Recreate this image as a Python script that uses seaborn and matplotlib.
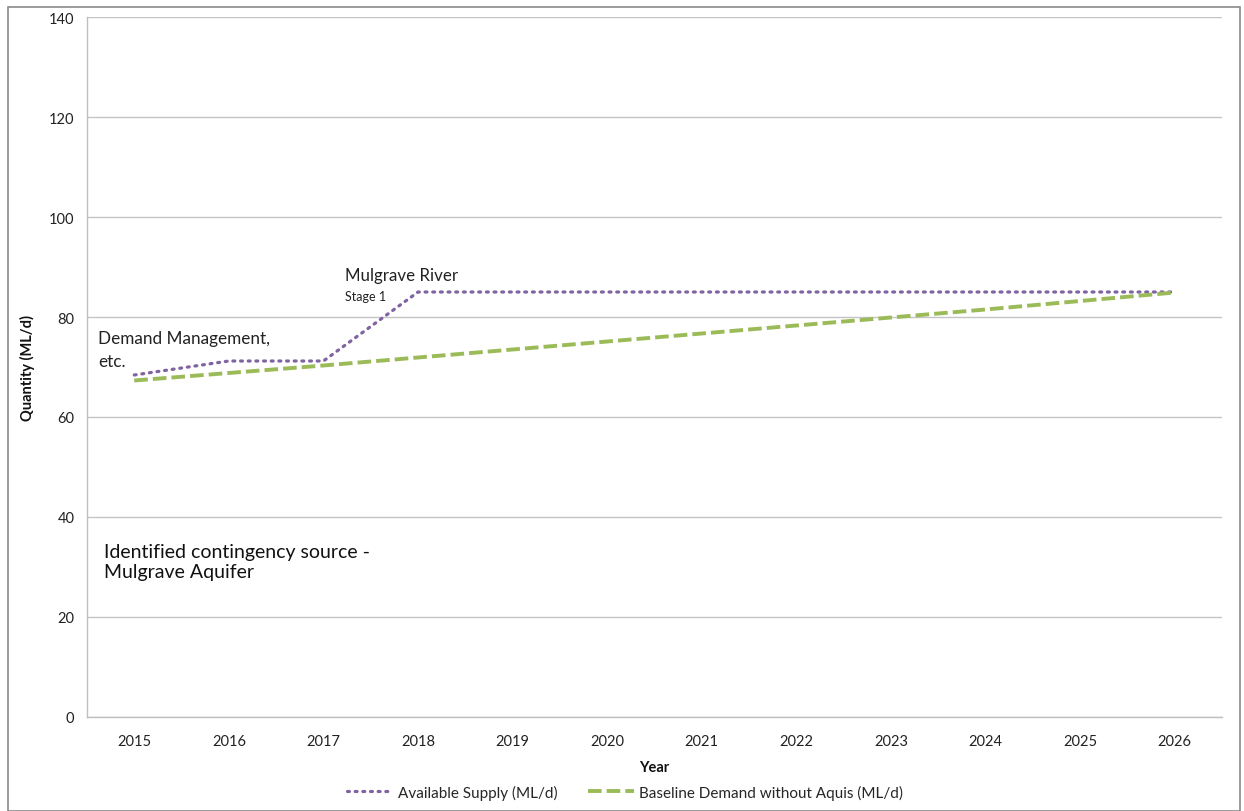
import matplotlib
matplotlib.use("Agg")
import matplotlib.pyplot as plt
import seaborn as sns
import pandas as pd
from matplotlib.patches import Rectangle

years = [2015, 2016, 2017, 2018, 2019, 2020, 2021, 2022, 2023, 2024, 2025, 2026]
supply = [68.4, 71.2, 71.2, 85.0, 85.0, 85.0, 85.0, 85.0, 85.0, 85.0, 85.0, 85.0]
demand = [67.3, 68.8, 70.3, 71.9, 73.5, 75.1, 76.7, 78.3, 79.9, 81.5, 83.2, 84.9]
series_names = ["Available Supply (ML/d)", "Baseline Demand without Aquis (ML/d)"]
y_ticks = [0, 20, 40, 60, 80, 100, 120, 140]

sns.set_theme(style="white")
plt.rcParams['font.family'] = ['Lato', 'DejaVu Sans']

df = pd.DataFrame({
    "Year": years * 2,
    "Value": supply + demand,
    "Series": [series_names[0]] * len(years) + [series_names[1]] * len(years),
})

fig = plt.figure(figsize=(12.44, 8.12), dpi=100)
ax = fig.add_axes([0.0699, 0.1158, 0.9823 - 0.0699, 0.9778 - 0.1158])

purple = "#8064A2"
green = "#9BBB59"
sns.lineplot(data=df[df.Series == series_names[0]], x="Year", y="Value", ax=ax,
             color=purple, linewidth=2.3, label=series_names[0])
sns.lineplot(data=df[df.Series == series_names[1]], x="Year", y="Value", ax=ax,
             color=green, linewidth=2.8, label=series_names[1])
ax.lines[0].set_dashes([0.6, 1.8])
ax.lines[0].set_dash_capstyle("round")
ax.lines[1].set_dashes([3.5, 1.3])

ax.set_xlim(years[0] - 0.5, years[-1] + 0.5)
ax.set_ylim(0, 140)
ax.set_yticks(y_ticks)
ax.set_xticks(years)
ax.set_xticks([y - 0.5 for y in years] + [years[-1] + 0.5], minor=True)
ax.tick_params(axis="x", which="major", length=0, pad=12, labelsize=10.5, colors="#222222")
ax.tick_params(axis="x", which="minor", length=5, color="#bfbfbf", width=1, direction="out")
ax.tick_params(axis="y", which="major", length=5, color="#bfbfbf", width=1, direction="out",
               labelsize=10.5, colors="#222222", pad=4)
ax.yaxis.grid(True, color="#c4c4c4", linewidth=1)
ax.xaxis.grid(False)
for s in ["top", "right"]:
    ax.spines[s].set_visible(False)
for s in ["left", "bottom"]:
    ax.spines[s].set_color("#bfbfbf")
    ax.spines[s].set_linewidth(1)

ax.set_xlabel("Year", fontweight="bold", fontsize=10.5, labelpad=9, color="#111111")
ax.set_ylabel("Quantity (ML/d)", fontweight="bold", fontsize=10.5, labelpad=10, color="#111111")

ax.text(2014.62, 73.5, "Demand Management,\netc.", fontsize=12.3, color="#222222",
        va="center", ha="left", linespacing=1.55)
ax.text(2017.23, 88.5, "Mulgrave River", fontsize=12.2, color="#222222", ha="left", va="center")
ax.text(2017.23, 84.3, "Stage 1", fontsize=9, color="#222222", ha="left", va="center")
ax.text(2014.68, 31.1, "Identified contingency source -\nMulgrave Aquifer", fontsize=14,
        color="#111111", ha="left", va="center", linespacing=1.25)

handles, labels = ax.get_legend_handles_labels()
ax.get_legend().remove()
fig.legend(handles, labels, loc="center", bbox_to_anchor=(0.5025, 0.0234), ncol=2,
           frameon=False, fontsize=11, handlelength=3.0, columnspacing=2.0,
           handletextpad=0.35, borderaxespad=0, borderpad=0)

fig.patches.append(Rectangle((8 / 1244, 0), (1240 - 8) / 1244, (812 - 8) / 812,
                             transform=fig.transFigure, fill=False, edgecolor="#8a8a8a",
                             linewidth=1.2))

fig.savefig("out.png", dpi=100)
